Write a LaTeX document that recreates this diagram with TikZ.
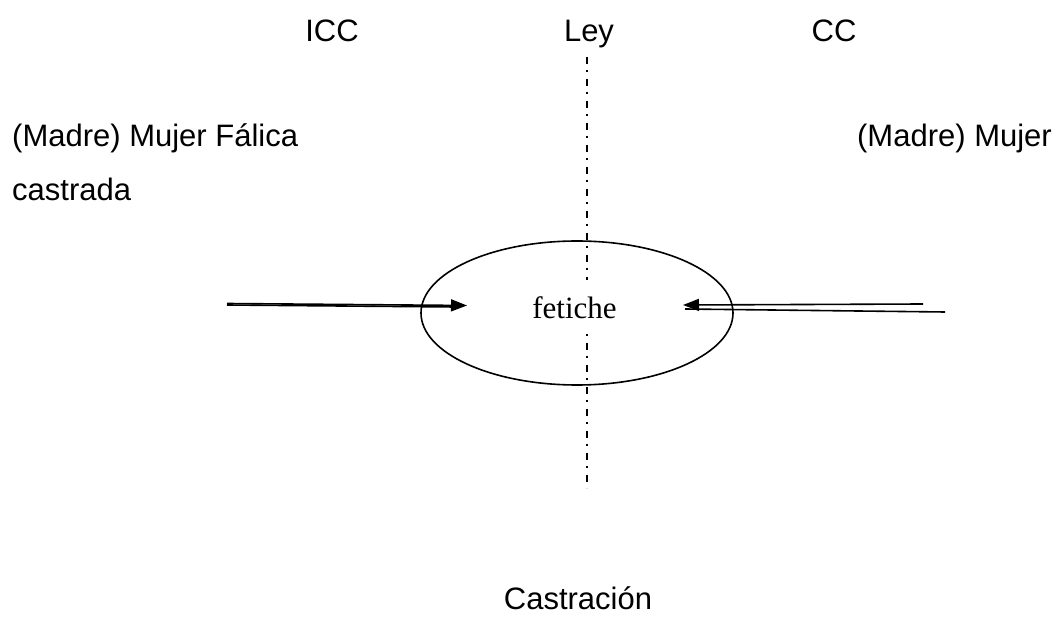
\documentclass[tikz,border=0pt]{standalone}
\usepackage{fontspec}
\setmainfont{Liberation Sans}
\newfontfamily\serifx{Liberation Serif}
\usetikzlibrary{arrows.meta}
\begin{document}
\begin{tikzpicture}[x=1pt,y=-1pt,
  lbl/.style={inner sep=0pt,font=\fontsize{31}{37}\selectfont},
  serlbl/.style={inner sep=0pt,fill=white,text height=39pt,text depth=9pt,font=\serifx\fontsize{31}{37}\selectfont},
  axisline/.style={line width=2pt,dash pattern=on 7pt off 6pt on 2pt off 7pt},
  arr/.style={line width=1.6pt,-{Triangle[length=16pt,width=12pt]}},
  plain/.style={line width=1.6pt}]
\useasboundingbox (0,0) rectangle (1061,617);
\fill[white] (0,0) rectangle (1061,617);
% texts
\node[lbl,anchor=base] (icc) at (332,42) {ICC};
\node[lbl,anchor=base] (ley) at (589,42) {Ley};
\node[lbl,anchor=base] (cc) at (834,42) {CC};
\node[lbl,anchor=base west] (mf) at (12,147) {(Madre) Mujer Fálica};
\node[lbl,anchor=base west] (cas) at (12,201) {castrada};
\node[lbl,anchor=base east] (mr) at (1052,147) {(Madre) Mujer};
\node[lbl,anchor=base] (castr) at (578,609) {Castración};
% axis
\coordinate (ltop) at (587,57);
\coordinate (lbot) at (587,488);
\draw[axisline] (ltop) -- (lbot);
% ellipse
\draw[line width=1.6pt] (577,313) ellipse [x radius=156, y radius=72];
\node[serlbl,anchor=base] (fet) at (574.5,319) {fetiche};
% left arrow
\coordinate (la1) at (227,303.5);
\coordinate (la2) at (467,305.5);
\coordinate (lb1) at (227,305);
\coordinate (lb2) at (455,307);
\draw[plain] (lb1) -- (lb2);
\draw[arr] (la1) -- (la2);
% right arrows
\coordinate (ra1) at (923,304);
\coordinate (ra2) at (683,305);
\coordinate (rb1) at (945,312);
\coordinate (rb2) at (685,309);
\draw[arr] (ra1) -- (ra2);
\draw[plain] (rb1) -- (rb2);
\end{tikzpicture}
\end{document}
